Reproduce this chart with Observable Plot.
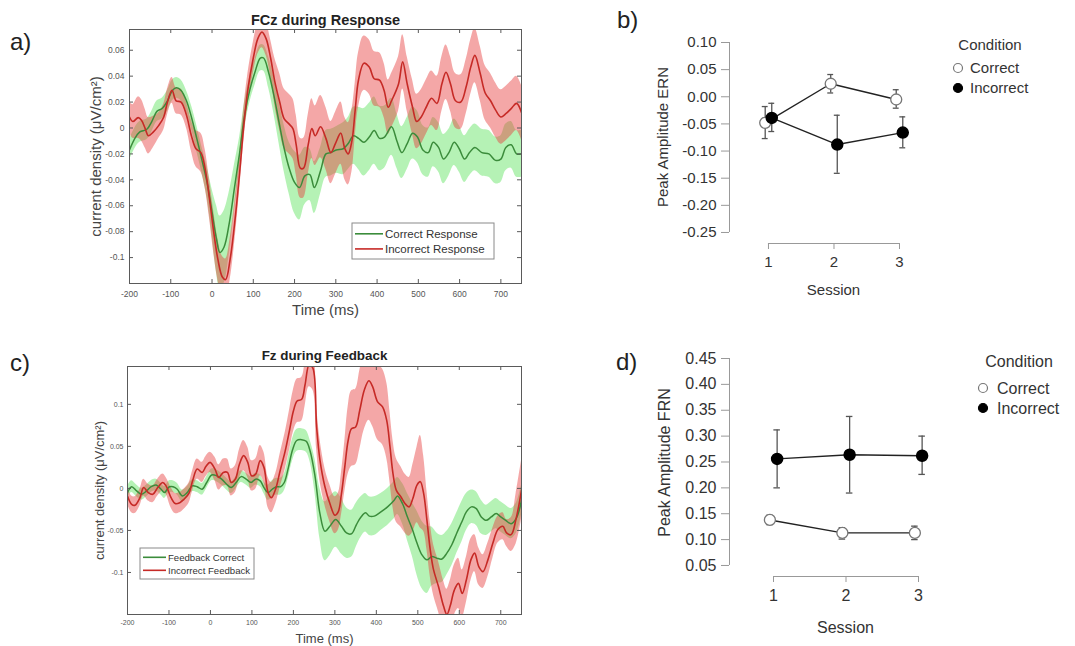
<!DOCTYPE html>
<html><head><meta charset="utf-8">
<script src="https://cdn.jsdelivr.net/npm/d3@7"></script>
<script src="https://cdn.jsdelivr.net/npm/@observablehq/plot@0.6"></script>
<style>
body{margin:0;background:#fff;}
#root{position:relative;width:1075px;height:646px;overflow:hidden;background:#fff;font-family:"Liberation Sans",Arial,Helvetica,sans-serif;}
</style></head><body><div id="root"></div>
<script>
// ---------- Panel a: FCz during Response ----------
const respXTicks = [-200,-100,0,100,200,300,400,500,600,700];
const respYTicks = [-0.1,-0.08,-0.06,-0.04,-0.02,0,0.02,0.04,0.06];
const respCorrectTime = [-200,-187,-175,-158,-146,-133,-121,-108,-96,-86,-75,-62,-50,-37,-25,-12,0,11,19,29,42,54,67,79,92,104,117,125,137,150,162,175,187,200,212,225,237,248,263,276,288,301,318,330,343,355,368,381,393,406,418,435,448,460,473,486,498,511,524,536,549,561,574,587,599,612,624,637,654,671,687,700,712,725,738,750];
const respCorrectMean = [-0.017,-0.008,-0.003,-0.001,0.005,0.013,0.015,0.021,0.029,0.031,0.029,0.021,0.0085,-0.008,-0.024,-0.042,-0.065,-0.086,-0.096,-0.092,-0.073,-0.047,-0.019,0.010,0.030,0.043,0.054,0.054,0.043,0.025,0.005,-0.016,-0.031,-0.042,-0.046,-0.037,-0.036,-0.046,-0.033,-0.020,-0.019,-0.017,-0.016,-0.012,-0.006,-0.008,-0.011,-0.007,-0.002,-0.008,-0.007,0.001,-0.010,-0.019,-0.012,-0.004,-0.007,-0.017,-0.019,-0.011,-0.015,-0.024,-0.019,-0.011,-0.016,-0.024,-0.019,-0.015,-0.019,-0.020,-0.025,-0.024,-0.015,-0.013,-0.020,-0.020];
const respCorrectSe = [0.008,0.008,0.008,0.008,0.008,0.008,0.008,0.008,0.008,0.008,0.008,0.008,0.009,0.01,0.01,0.012,0.018,0.026,0.028,0.028,0.024,0.018,0.012,0.01,0.01,0.01,0.01,0.01,0.012,0.014,0.016,0.018,0.02,0.024,0.025,0.022,0.02,0.02,0.018,0.018,0.018,0.018,0.02,0.02,0.022,0.024,0.026,0.026,0.026,0.025,0.024,0.022,0.021,0.02,0.02,0.02,0.02,0.019,0.019,0.019,0.019,0.019,0.018,0.018,0.018,0.018,0.018,0.018,0.018,0.018,0.018,0.018,0.018,0.018,0.018,0.018];
const respIncorrectTime = [-200,-192,-179,-171,-162,-154,-142,-129,-117,-108,-97,-87,-75,-62,-50,-39,-27,-17,-6,4,14,25,33,44,56,67,77,87,100,111,121,131,142,152,164,175,187,196,204,214,222,233,242,250,263,276,288,299,312,322,330,339,347,355,368,381,393,406,417,427,435,452,462,473,486,496,507,519,532,545,557,567,578,590,603,616,627,637,650,662,675,687,700,712,725,738,750];
const respIncorrectMean = [0.0085,0.005,0.008,0.006,-0.0005,-0.006,-0.003,0.002,0.0085,0.020,0.029,0.021,0.020,0.010,-0.006,-0.016,-0.019,-0.031,-0.055,-0.080,-0.101,-0.115,-0.117,-0.101,-0.070,-0.034,0.002,0.030,0.054,0.069,0.074,0.069,0.054,0.036,0.020,0.007,0.003,-0.0005,-0.013,-0.031,-0.031,-0.013,-0.0005,-0.006,0.001,-0.008,-0.019,-0.012,-0.004,-0.016,-0.020,-0.010,0.014,0.037,0.050,0.047,0.038,0.037,0.029,0.016,0.021,0.034,0.051,0.034,0.016,0.005,0.0085,0.016,0.023,0.019,0.034,0.043,0.034,0.021,0.020,0.032,0.047,0.056,0.042,0.027,0.021,0.014,0.0085,0.011,0.015,0.019,0.012];
const respIncorrectSe = [0.012,0.013,0.016,0.016,0.015,0.014,0.012,0.01,0.01,0.01,0.01,0.01,0.01,0.01,0.012,0.014,0.015,0.015,0.015,0.016,0.016,0.016,0.016,0.016,0.015,0.014,0.013,0.012,0.012,0.012,0.012,0.013,0.014,0.018,0.022,0.023,0.023,0.023,0.023,0.023,0.023,0.023,0.023,0.023,0.024,0.024,0.024,0.024,0.024,0.024,0.024,0.024,0.021,0.021,0.021,0.021,0.021,0.021,0.021,0.021,0.021,0.021,0.021,0.021,0.021,0.021,0.021,0.021,0.021,0.021,0.021,0.021,0.021,0.021,0.021,0.021,0.021,0.021,0.021,0.021,0.021,0.021,0.021,0.021,0.021,0.021,0.021];

// ---------- Panel c: Fz during Feedback ----------
const fbXTicks = [-200,-100,0,100,200,300,400,500,600,700];
const fbYTicks = [-0.1,-0.05,0,0.05,0.1];
const fbCorrectTime = [-200,-190,-178,-166,-154,-143,-131,-119,-111,-99,-90,-80,-68,-56,-44,-32,-20,-9,3,15,27,39,50,62,74,86,98,109,120,129,139,149,159,169,178,188,198,208,220,231,240,252,264,276,288,302,316,328,340,352,363,374,383,395,411,427,443,451,463,475,487,498,510,522,534,546,558,570,582,594,606,617,629,641,653,665,677,689,700,712,725,738,750];
const fbCorrectMean = [-0.005,0.002,-0.003,-0.007,-0.003,0.002,0.004,-0.001,-0.005,0.002,0.002,-0.001,-0.009,-0.005,0.003,0.002,-0.001,0.007,0.016,0.015,0.011,0.005,0.001,0.007,0.014,0.011,0.007,0.011,0.009,0.001,-0.005,-0.001,0.002,0.002,0.007,0.025,0.046,0.057,0.058,0.056,0.045,0.015,-0.030,-0.051,-0.045,-0.037,-0.045,-0.053,-0.054,-0.043,-0.034,-0.029,-0.033,-0.033,-0.028,-0.022,-0.014,-0.009,-0.018,-0.034,-0.049,-0.065,-0.079,-0.085,-0.081,-0.083,-0.084,-0.077,-0.067,-0.053,-0.040,-0.028,-0.022,-0.024,-0.034,-0.038,-0.034,-0.030,-0.034,-0.038,-0.042,-0.035,-0.014];
const fbCorrectSe = [0.007,0.007,0.007,0.007,0.007,0.007,0.007,0.007,0.007,0.007,0.007,0.007,0.007,0.007,0.007,0.007,0.007,0.007,0.007,0.007,0.007,0.007,0.007,0.007,0.007,0.007,0.007,0.007,0.007,0.007,0.009,0.01,0.01,0.01,0.01,0.012,0.013,0.013,0.013,0.013,0.013,0.02,0.03,0.035,0.035,0.033,0.033,0.03,0.028,0.026,0.024,0.023,0.023,0.023,0.022,0.022,0.022,0.022,0.024,0.028,0.032,0.038,0.04,0.04,0.035,0.03,0.028,0.026,0.025,0.024,0.024,0.022,0.02,0.02,0.02,0.018,0.018,0.018,0.018,0.018,0.018,0.018,0.018];
const fbIncorrectTime = [-200,-190,-182,-170,-161,-150,-139,-127,-115,-107,-95,-85,-74,-64,-52,-43,-32,-20,-11,-1,11,20,31,41,50,60,70,80,90,99,109,120,129,139,147,157,168,180,191,200,209,220,228,238,247,256,264,276,288,300,308,316,324,332,340,350,360,371,382,391,403,415,425,433,440,448,459,469,479,488,498,506,514,522,530,538,550,562,570,578,588,598,607,617,628,637,647,657,669,681,693,705,714,725,737,750];
const fbIncorrectMean = [-0.009,-0.019,-0.020,-0.011,0.001,-0.005,-0.007,0.001,0.007,0.003,-0.011,-0.018,-0.017,-0.013,-0.006,0.009,0.023,0.019,0.026,0.031,0.023,0.013,0.019,0.019,0.007,0.011,0.029,0.039,0.031,0.015,0.017,0.033,0.025,-0.005,-0.011,-0.001,0.021,0.044,0.070,0.092,0.104,0.106,0.123,0.147,0.143,0.073,0.034,0.002,-0.018,-0.032,-0.028,-0.006,0.026,0.057,0.071,0.073,0.093,0.117,0.128,0.121,0.103,0.097,0.081,0.049,0.018,-0.002,-0.010,-0.018,-0.022,-0.012,0.004,0.008,-0.006,-0.038,-0.073,-0.097,-0.117,-0.140,-0.150,-0.140,-0.121,-0.113,-0.125,-0.109,-0.085,-0.077,-0.093,-0.099,-0.085,-0.065,-0.049,-0.045,-0.053,-0.055,-0.036,-0.002];
const fbIncorrectSe = [0.01,0.01,0.01,0.01,0.01,0.01,0.01,0.01,0.01,0.01,0.012,0.012,0.012,0.012,0.012,0.012,0.012,0.012,0.012,0.012,0.014,0.015,0.016,0.016,0.016,0.016,0.017,0.018,0.018,0.018,0.018,0.018,0.018,0.018,0.018,0.018,0.02,0.022,0.024,0.025,0.026,0.026,0.026,0.026,0.026,0.026,0.025,0.022,0.022,0.022,0.022,0.025,0.03,0.04,0.045,0.045,0.047,0.047,0.047,0.047,0.045,0.045,0.045,0.042,0.04,0.038,0.036,0.035,0.035,0.04,0.045,0.055,0.045,0.035,0.032,0.03,0.03,0.03,0.03,0.03,0.03,0.03,0.028,0.027,0.025,0.022,0.022,0.02,0.02,0.018,0.016,0.016,0.016,0.02,0.03,0.035];

// ---------- Panels b and d: peak amplitudes ----------
const sessions = [1, 2, 3];
const conditions = ["Correct", "Incorrect"];
const ernYTicks = [-0.25,-0.20,-0.15,-0.10,-0.05,0.00,0.05,0.10];
const ernCorrectMean = [-0.048, 0.024, -0.005];
const ernCorrectLo = [-0.077, 0.007, -0.021];
const ernCorrectHi = [-0.018, 0.041, 0.013];
const ernIncorrectMean = [-0.039, -0.088, -0.066];
const ernIncorrectLo = [-0.064, -0.141, -0.094];
const ernIncorrectHi = [-0.012, -0.034, -0.037];
const frnYTicks = [0.05,0.10,0.15,0.20,0.25,0.30,0.35,0.40,0.45];
const frnCorrectMean = [0.138, 0.113, 0.113];
const frnCorrectLo = [0.129, 0.101, 0.100];
const frnCorrectHi = [0.147, 0.123, 0.126];
const frnIncorrectMean = [0.256, 0.264, 0.262];
const frnIncorrectLo = [0.200, 0.190, 0.226];
const frnIncorrectHi = [0.312, 0.338, 0.300];

// ---------- helpers ----------
const FONT = "'Liberation Sans', Arial, Helvetica, sans-serif";
const fmtNum = d => String(+d.toFixed(3));
const wave = (ts, ms, ss) => ts.map((t, i) => ({t, v: ms[i], lo: ms[i] - ss[i], hi: ms[i] + ss[i]}));
const root = document.getElementById("root");
function place(el, left, top) {
  el.style.position = "absolute"; el.style.left = left + "px"; el.style.top = top + "px";
  el.style.maxWidth = "none";
  root.appendChild(el);
}

function erpPanel(o) {
  const innerW = o.width - o.ml - o.mr, innerH = o.height - o.mt - o.mb;
  const tk = 4, ax = "#5a5a5a";
  return Plot.plot({
    width: o.width, height: o.height,
    marginLeft: o.ml, marginRight: o.mr, marginTop: o.mt, marginBottom: o.mb,
    style: {fontFamily: FONT, fontSize: o.tickFont + "px", color: "#555", background: "transparent", overflow: "visible"},
    x: {domain: o.xDomain},
    y: {domain: o.yDomain},
    marks: [
      Plot.areaY(o.correct, {x: "t", y1: "lo", y2: "hi", fill: "#3ddc3d", fillOpacity: 0.38, curve: "catmull-rom", clip: true}),
      Plot.areaY(o.incorrect, {x: "t", y1: "lo", y2: "hi", fill: "#e63c3c", fillOpacity: 0.45, curve: "catmull-rom", clip: true}),
      Plot.lineY(o.correct, {x: "t", y: "v", stroke: "#3b8c3b", strokeWidth: 1.5, curve: "catmull-rom", clip: true}),
      Plot.lineY(o.incorrect, {x: "t", y: "v", stroke: "#c62a26", strokeWidth: 1.6, curve: "catmull-rom", clip: true}),
      Plot.frame({stroke: ax}),
      Plot.tickX(o.xTicks, {x: d => d, insetTop: innerH - tk, stroke: ax}),
      Plot.tickX(o.xTicks, {x: d => d, insetBottom: innerH - tk, stroke: ax}),
      Plot.tickY(o.yTicks, {y: d => d, insetRight: innerW - tk, stroke: ax}),
      Plot.tickY(o.yTicks, {y: d => d, insetLeft: innerW - tk, stroke: ax}),
      Plot.axisX({ticks: o.xTicks, tickSize: 0, tickPadding: o.xPad, tickFormat: fmtNum, label: null, color: "#555"}),
      Plot.axisY({ticks: o.yTicks, tickSize: 0, tickPadding: o.yPad, tickFormat: fmtNum, label: null, color: "#555"}),
      Plot.text([o.title], {text: d => d, frameAnchor: "top", textAnchor: "middle", lineAnchor: "middle", dy: o.titleDy, fontWeight: "bold", fontSize: o.titleFont, fill: "#222"}),
      Plot.text([o.xLabel], {text: d => d, frameAnchor: "bottom", textAnchor: "middle", lineAnchor: "middle", dy: o.xLabelDy, fontSize: o.labelFont, fill: "#444"}),
      Plot.text([o.yLabel], {text: d => d, frameAnchor: "left", textAnchor: "middle", lineAnchor: "middle", rotate: -90, dx: o.yLabelDx, fontSize: o.labelFont, fill: "#444"})
    ]
  });
}

function peakPanel(o) {
  const rows = [];
  sessions.forEach((s, i) => {
    rows.push({cond: conditions[0], xd: s - 0.05, m: o.cMean[i], lo: o.cLo[i], hi: o.cHi[i]});
    rows.push({cond: conditions[1], xd: s + 0.05, m: o.iMean[i], lo: o.iLo[i], hi: o.iHi[i]});
  });
  const cap = 0.045, ax = "#999";
  return Plot.plot({
    width: o.width, height: o.height,
    marginLeft: o.ml, marginRight: o.mr, marginTop: o.mt, marginBottom: o.mb,
    style: {fontFamily: FONT, fontSize: o.font + "px", color: "#333", background: "transparent", overflow: "visible"},
    x: {domain: o.xDomain},
    y: {domain: o.yDomain},
    marks: [
      Plot.ruleX([o.xDomain[0]], {y1: o.yTicks[0], y2: o.yTicks[o.yTicks.length - 1], stroke: ax}),
      Plot.ruleY([o.yDomain[0]], {x1: sessions[0], x2: sessions[sessions.length - 1], stroke: ax}),
      Plot.axisY({ticks: o.yTicks, tickSize: 8, tickPadding: 5, tickFormat: d => d.toFixed(2), label: null, stroke: ax, fill: "#333"}),
      Plot.axisX({ticks: sessions, tickSize: 6, tickPadding: 7, tickFormat: d => String(d), label: null, stroke: ax, fill: "#333"}),
      Plot.ruleX(rows, {x: "xd", y1: "lo", y2: "hi", stroke: "#555", strokeWidth: 1.3}),
      Plot.ruleY(rows, {y: "lo", x1: d => d.xd - cap, x2: d => d.xd + cap, stroke: "#555", strokeWidth: 1.3}),
      Plot.ruleY(rows, {y: "hi", x1: d => d.xd - cap, x2: d => d.xd + cap, stroke: "#555", strokeWidth: 1.3}),
      Plot.line(rows, {x: "xd", y: "m", z: "cond", stroke: "#222", strokeWidth: 1.4}),
      Plot.dot(rows.filter(d => d.cond === conditions[0]), {x: "xd", y: "m", r: 5.5, fill: "white", stroke: "#777", strokeWidth: 1.3}),
      Plot.dot(rows.filter(d => d.cond === conditions[1]), {x: "xd", y: "m", r: 5.5, fill: "black", stroke: "black"}),
      Plot.text([o.xLabel], {text: d => d, frameAnchor: "bottom", textAnchor: "middle", lineAnchor: "middle", dx: o.xLabelDx, dy: o.xLabelDy, fontSize: o.font, fill: "#333"}),
      Plot.text([o.yLabel], {text: d => d, frameAnchor: "left", textAnchor: "middle", lineAnchor: "middle", rotate: -90, dx: o.yLabelDx, dy: o.yLabelDy, fontSize: o.font, fill: "#333"})
    ]
  });
}

// ---------- build panels ----------
place(erpPanel({
  width: 540, height: 320, ml: 129, mr: 19, mt: 29, mb: 37,
  xDomain: [-200, 750], yDomain: [-0.12, 0.076],
  xTicks: respXTicks, yTicks: respYTicks, tickFont: 8.5, xPad: 7, yPad: 5,
  correct: wave(respCorrectTime, respCorrectMean, respCorrectSe),
  incorrect: wave(respIncorrectTime, respIncorrectMean, respIncorrectSe),
  title: "FCz during Response", titleDy: -9, titleFont: 14.5,
  xLabel: "Time (ms)", xLabelDy: 27, labelFont: 15,
  yLabel: "current density (μV/cm²)", yLabelDx: -33
}), 0, 0);

place(erpPanel({
  width: 540, height: 326, ml: 127, mr: 19, mt: 46, mb: 32,
  xDomain: [-200, 750], yDomain: [-0.15, 0.145],
  xTicks: fbXTicks, yTicks: fbYTicks, tickFont: 7, xPad: 6, yPad: 4,
  correct: wave(fbCorrectTime, fbCorrectMean, fbCorrectSe),
  incorrect: wave(fbIncorrectTime, fbIncorrectMean, fbIncorrectSe),
  title: "Fz during Feedback", titleDy: -11, titleFont: 13.4,
  xLabel: "Time (ms)", xLabelDy: 24, labelFont: 13,
  yLabel: "current density (μV/cm²)", yLabelDx: -28
}), 0, 320);

place(peakPanel({
  width: 535, height: 320, ml: 189, mr: 150, mt: 42, mb: 77,
  xDomain: [0.405, 3.397], yDomain: [-0.2703, 0.10], yTicks: ernYTicks, font: 15,
  cMean: ernCorrectMean, cLo: ernCorrectLo, cHi: ernCorrectHi,
  iMean: ernIncorrectMean, iLo: ernIncorrectLo, iHi: ernIncorrectHi,
  xLabel: "Session", xLabelDx: 6, xLabelDy: 47,
  yLabel: "Peak Amplitude ERN", yLabelDx: -66, yLabelDy: -6
}), 540, 0);

place(peakPanel({
  width: 535, height: 326, ml: 189, mr: 128, mt: 38, mb: 70,
  xDomain: [0.393, 3.40], yDomain: [0.0287, 0.45], yTicks: frnYTicks, font: 16,
  cMean: frnCorrectMean, cLo: frnCorrectLo, cHi: frnCorrectHi,
  iMean: frnIncorrectMean, iLo: frnIncorrectLo, iHi: frnIncorrectHi,
  xLabel: "Session", xLabelDx: 7, xLabelDy: 51,
  yLabel: "Peak Amplitude FRN", yLabelDx: -65, yLabelDy: -5
}), 540, 320);

// ---------- overlay: panel letters and legends ----------
const ov = d3.select(root).append("svg")
  .attr("width", 1075).attr("height", 646)
  .style("position", "absolute").style("left", "0px").style("top", "0px")
  .style("font-family", FONT).style("overflow", "visible");

[["a)", 10, 50], ["b)", 617, 28], ["c)", 10, 371], ["d)", 616, 370]].forEach(([t, x, y]) =>
  ov.append("text").attr("x", x).attr("y", y).attr("font-size", 24).attr("fill", "#222").text(t));

function erpLegend(x, y, w, h, lineW, fs, labels) {
  ov.append("rect").attr("x", x).attr("y", y).attr("width", w).attr("height", h)
    .attr("fill", "white").attr("stroke", "#8a8a8a");
  const cols = ["#3b8c3b", "#c62a26"];
  labels.forEach((lab, i) => {
    const yy = y + h * (i === 0 ? 0.3 : 0.72);
    ov.append("line").attr("x1", x + 3).attr("x2", x + 3 + lineW).attr("y1", yy).attr("y2", yy)
      .attr("stroke", cols[i]).attr("stroke-width", 1.6);
    ov.append("text").attr("x", x + 5 + lineW).attr("y", yy).attr("dy", "0.35em")
      .attr("font-size", fs).attr("fill", "#333").text(lab);
  });
}
erpLegend(352, 223, 142, 36, 28, 11.5, ["Correct Response", "Incorrect Response"]);
erpLegend(140, 548, 114, 31, 23, 9.6, ["Feedback Correct", "Incorrect Feedback"]);

function condLegend(cx, titleY, circX, textX, ys, fs) {
  ov.append("text").attr("x", cx).attr("y", titleY).attr("text-anchor", "middle")
    .attr("font-size", fs).attr("fill", "#333").text("Condition");
  conditions.forEach((c, i) => {
    ov.append("circle").attr("cx", circX).attr("cy", ys[i]).attr("r", 4.5)
      .attr("fill", i === 0 ? "white" : "black").attr("stroke", i === 0 ? "#777" : "black").attr("stroke-width", 1.2);
    ov.append("text").attr("x", textX).attr("y", ys[i]).attr("dy", "0.35em")
      .attr("font-size", fs).attr("fill", "#333").text(c);
  });
}
condLegend(990, 50, 958, 970, [68, 88], 15);
condLegend(1019, 367, 983, 997, [388, 408], 16);
</script></body></html>
